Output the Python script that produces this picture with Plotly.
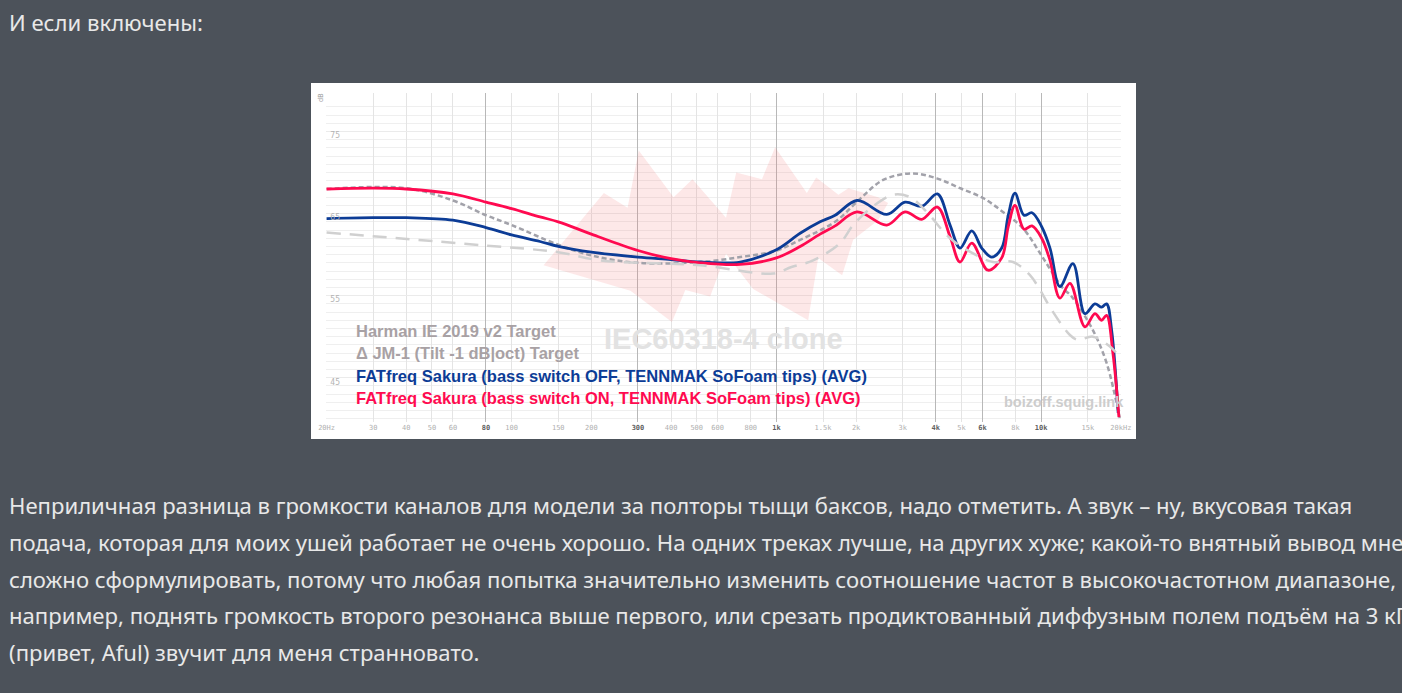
import math
import plotly.graph_objects as go

# frequency response readings (Hz, dB SPL) taken off the squig.link graph
blue_f = [20, 30, 40, 60, 80, 100, 128, 150, 200, 300, 400, 516, 730, 1000, 1229, 1462, 1666, 2017,
          2612, 3062, 3540, 4054, 4527, 4938, 5468, 5963, 6504, 7093, 7510, 7962, 8610, 9232, 10044,
          10794, 11772, 13180, 14630, 15958, 16914, 17664, 18450, 19536]
blue_db = [64.4, 64.5, 64.5, 64.2, 63.3, 62.4, 61.6, 61.0, 60.3, 59.7, 59.4, 59.1, 59.1, 60.6, 62.6,
           64.0, 64.8, 66.6, 64.9, 66.4, 65.9, 67.4, 63.6, 60.8, 62.9, 60.8, 59.7, 60.8, 64.8, 67.5,
           64.8, 65.1, 63.4, 60.8, 56.1, 58.9, 52.8, 54.0, 53.6, 54.0, 50.8, 40.7]

red_f = [20, 30, 40, 60, 80, 100, 128, 150, 200, 300, 400, 516, 730, 1000, 1229, 1462, 1666, 2017,
         2612, 3062, 3540, 4054, 4527, 4938, 5468, 6296, 7093, 7510, 7962, 8610, 9232, 10044, 10794,
         11772, 12840, 14630, 15958, 16914, 17664, 18660, 19660]
red_db = [68.0, 68.1, 68.0, 67.4, 66.4, 65.6, 64.6, 64.0, 62.5, 60.5, 59.5, 59.0, 58.8, 59.6, 61.0,
          62.5, 63.5, 65.2, 63.6, 65.2, 64.3, 65.8, 62.2, 59.1, 61.4, 58.1, 59.6, 63.4, 66.0, 63.1,
          63.5, 62.0, 59.3, 54.7, 56.5, 51.2, 52.8, 52.0, 52.6, 48.0, 40.2]

harman_f = [20, 40, 60, 80, 100, 150, 200, 300, 516, 730, 1000, 1229, 1666, 2070, 2530, 3246, 4032,
            4938, 6030, 7170, 8540, 10160, 12080, 13032, 15680, 17660, 19270, 19830]
harman_db = [68.0, 68.1, 66.6, 64.8, 63.6, 61.2, 59.9, 59.0, 59.1, 59.7, 60.5, 61.8, 64.0, 66.8, 69.1,
             69.9, 69.3, 68.1, 66.9, 65.2, 63.2, 59.6, 55.9, 54.9, 50.8, 46.8, 41.9, 40.0]

jm_f = [20, 80, 150, 216, 516, 972, 1140, 1376, 1740, 1949, 2258, 2758, 3198, 3698, 4527, 5710, 6578,
        7828, 9072, 9896, 10794, 12840, 13762, 15680, 18178, 19830]
jm_db = [62.7, 61.1, 60.3, 59.3, 58.7, 57.7, 58.5, 59.3, 61.4, 63.6, 65.6, 67.3, 67.0, 65.2, 62.0, 59.9,
         59.1, 59.1, 57.5, 55.7, 53.6, 50.2, 49.6, 50.0, 48.8, 47.5]

# IEC60318-4 clone spread (upper / lower edge)
band_up_f = [132, 223, 274, 302, 409, 482, 645, 705, 882, 989, 1303, 1413, 1715, 1871, 2422, 2642]
band_up_db = [58.7, 67.5, 65.7, 72.7, 67.0, 69.2, 64.5, 70.0, 69.2, 73.1, 67.5, 69.4, 67.3, 68.1, 67.0, 66.3]
band_lo_f = [132, 210, 281, 403, 453, 562, 645, 817, 1318, 1438, 1771, 1949, 2422, 2642]
band_lo_db = [58.7, 56.8, 55.6, 51.8, 55.7, 54.9, 60.1, 55.8, 52.0, 59.6, 57.5, 61.8, 64.2, 66.3]

light_ticks = [20, 30, 40, 50, 60, 100, 150, 200, 400, 500, 600, 800, 1500, 2000, 3000, 5000, 8000, 15000, 20000]
light_text = ["20Hz", "30", "40", "50", "60", "100", "150", "200", "400", "500", "600", "800",
              "1.5k", "2k", "3k", "5k", "8k", "15k", "20kHz"]
dark_ticks = [80, 300, 1000, 4000, 6000, 10000]
dark_text = ["80", "300", "1k", "4k", "6k", "10k"]
y_ticks = [45, 55, 65, 75]

legend_names = ["Harman IE 2019 v2 Target",
                "\u0394 JM-1 (Tilt -1 dB|oct) Target",
                "FATfreq Sakura (bass switch OFF, TENNMAK SoFoam tips) (AVG)",
                "FATfreq Sakura (bass switch ON, TENNMAK SoFoam tips) (AVG)"]

page_title = "И если включены:"
page_lines = [
    "Неприличная разница в громкости каналов для модели за полторы тыщи баксов, надо отметить. А звук – ну, вкусовая такая",
    "подача, которая для моих ушей работает не очень хорошо. На одних треках лучше, на других хуже; какой-то внятный вывод мне",
    "сложно сформулировать, потому что любая попытка значительно изменить соотношение частот в высокочастотном диапазоне,",
    "например, поднять громкость второго резонанса выше первого, или срезать продиктованный диффузным полем подъём на 3 кГц",
    "(привет, Aful) звучит для меня странновато.",
]

BLUE = "#0c3c96"
RED = "#ff0a50"
GREY_T = "#a8a1a4"

W, H = 1402, 693
L, R, T, B = 326, 1121, 93, 422   # plot area in page pixels


def px(x):
    return (x - L) / (R - L)


def py(y):
    return (B - y) / (B - T)


xr = [math.log10(19.9), math.log10(20020)]

fig = go.Figure()

fig.add_trace(go.Scatter(x=band_up_f + band_lo_f[::-1], y=band_up_db + band_lo_db[::-1],
                         mode="lines", fill="toself", fillcolor="rgba(240,110,110,0.16)",
                         line=dict(width=0), hoverinfo="skip"))
fig.add_trace(go.Scatter(x=jm_f, y=jm_db, mode="lines", xaxis="x2",
                         line=dict(color="#d0d0d0", width=2.5, dash="14px,9px", shape="spline")))
fig.add_trace(go.Scatter(x=harman_f, y=harman_db, mode="lines",
                         line=dict(color="#a2a2aa", width=2.5, dash="5px,3px", shape="spline")))
fig.add_trace(go.Scatter(x=blue_f, y=blue_db, mode="lines",
                         line=dict(color=BLUE, width=2.8, shape="spline")))
fig.add_trace(go.Scatter(x=red_f, y=red_db, mode="lines",
                         line=dict(color=RED, width=2.8, shape="spline")))

tickfont = dict(family="DejaVu Sans Mono", size=7, color="#b0b0b0")

fig.update_layout(
    width=W, height=H,
    margin=dict(l=L, r=W - R, t=T, b=H - B),
    paper_bgcolor="#4c525a",
    plot_bgcolor="white",
    showlegend=False,
    xaxis=dict(type="log", range=xr, tickvals=light_ticks, ticktext=light_text,
               showgrid=True, gridcolor="#e4e4e4", gridwidth=1, zeroline=False,
               showline=False, ticks="", tickfont=tickfont),
    xaxis2=dict(type="log", range=xr, overlaying="x", side="bottom", tickvals=dark_ticks,
                ticktext=dark_text, showgrid=True, gridcolor="#b8b8b8", gridwidth=1,
                zeroline=False, showline=False, ticks="",
                tickfont=dict(family="DejaVu Sans Mono", size=7, color="#606060", weight="bold")),
    # labels kept outside but pulled into the plot, so the 20Hz x label is not hidden
    yaxis=dict(range=[39.6, 79.7], tickvals=y_ticks, showgrid=True, gridcolor="#ebebeb",
               zeroline=False, showline=False, ticks="", ticklabelposition="outside",
               ticklabelstandoff=-15, ticklabelshift=4,
               tickfont=dict(family="DejaVu Sans Mono", size=8, color="#b3b3b3"),
               minor=dict(tickvals=list(range(40, 79)), showgrid=True, gridcolor="#efefef")),
)

# white card behind the graph
fig.add_shape(type="rect", xref="paper", yref="paper", x0=px(311), x1=px(1136),
              y0=py(439), y1=py(83), fillcolor="white", line=dict(width=0), layer="below")


def note(text, x, y, font, xanchor="left", **kw):
    fig.add_annotation(text=text, xref="paper", yref="paper", x=px(x), y=py(y),
                       xanchor=xanchor, yanchor="middle", showarrow=False, font=font, **kw)


note("<b>IEC60318-4 clone</b>", 723, 339,
     dict(family="Liberation Sans", size=29, color="#e2e2e2"), xanchor="center")
note("<b>boizoff.squig.link</b>", 1126, 402,
     dict(family="Liberation Sans", size=14.5, color="#cdcdcd"), xanchor="right")
note("dB", 321, 98, dict(family="DejaVu Sans Mono", size=7, color="#999999"),
     xanchor="center", textangle=-90)

leg_colors = [GREY_T, GREY_T, BLUE, RED]
leg_y = [331, 353, 376, 398]
for name, col, yy in zip(legend_names, leg_colors, leg_y):
    note("<b>" + name + "</b>", 354, yy, dict(family="Liberation Sans", size=16.5, color=col))

# the blog text runs past the right edge of the window, as in the screenshot
page_font = dict(family="Noto Sans", size=22.1, color="#e8e8e8")
note(page_title, 7, 22, page_font)
for i, line in enumerate(page_lines):
    note(line, 7, 505 + i * 36.8, page_font)

# the page body has a default 8px margin; drop it so the figure fills the window
fig.write_html("out.html", config={"displayModeBar": False},
               post_script="document.body.style.margin='0';")
